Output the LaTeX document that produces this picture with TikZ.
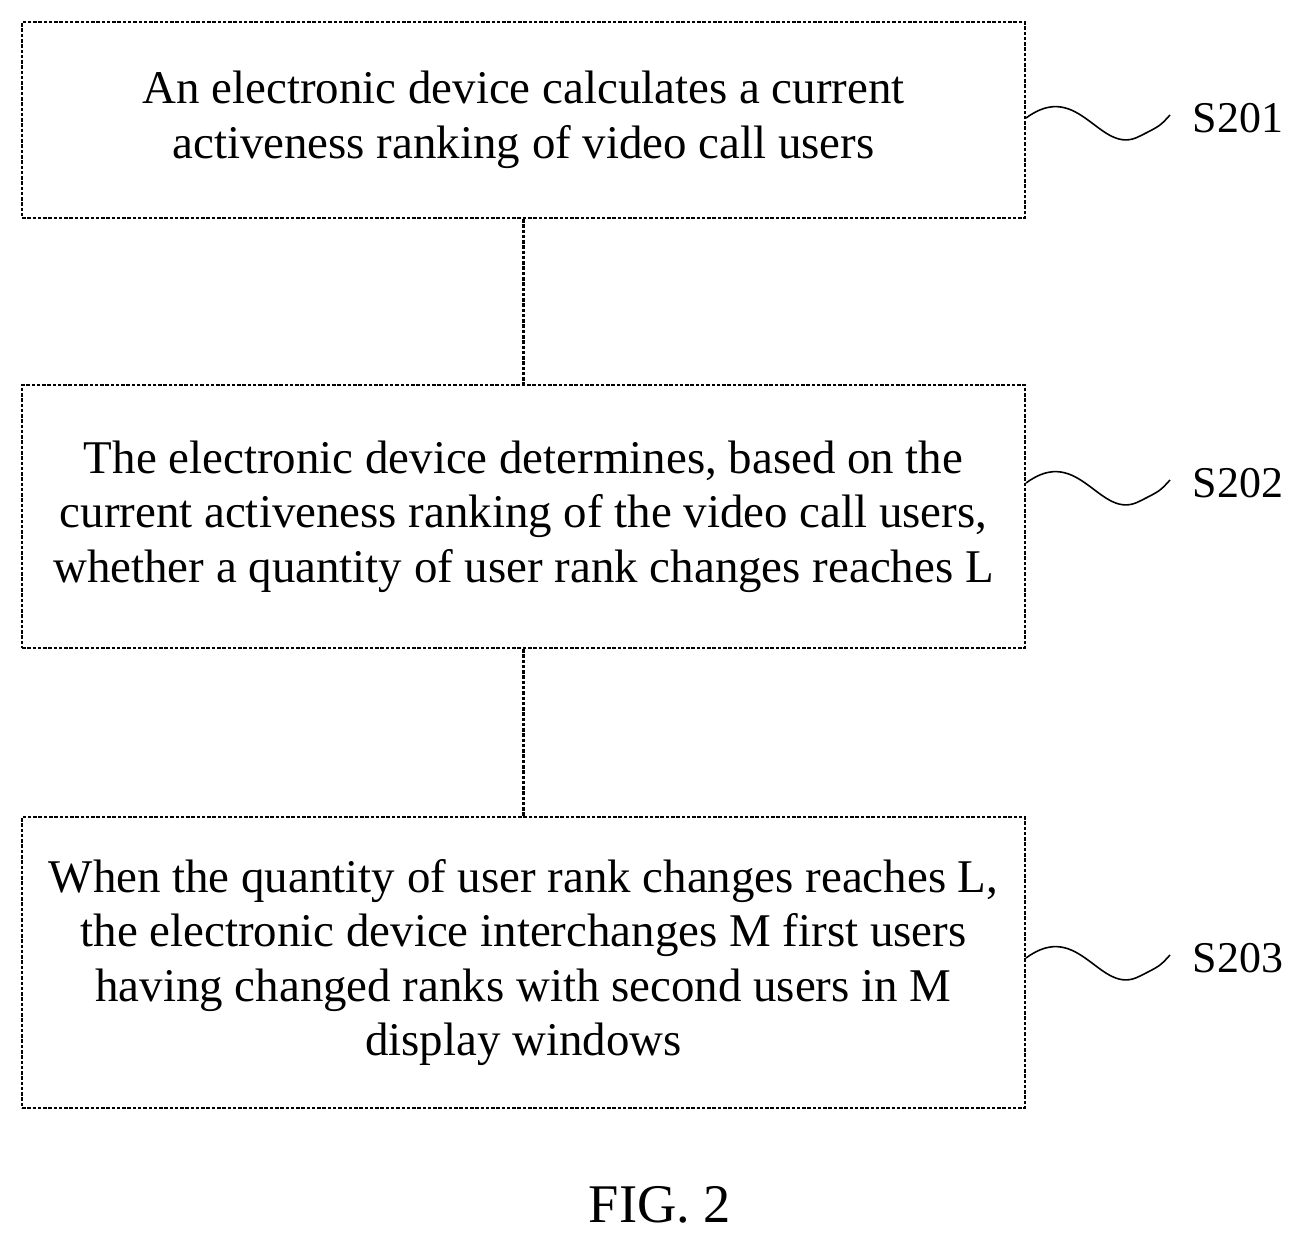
\documentclass[tikz,border=0pt]{standalone}
\usepackage{fontspec}
\setmainfont{Liberation Serif}
\usetikzlibrary{positioning}
\begin{document}
\begin{tikzpicture}
      [ x=0.02cm, y=-0.02cm,
        stepbox/.style={draw, dash pattern=on 2pt off 1pt, line width=1.2pt,
          minimum width=1003*0.02cm, align=center, inner sep=0pt,
          font=\fontsize{26.7}{31}\selectfont},
        tag/.style={font=\fontsize{25}{28}\selectfont},
        squiggle/.style={line width=0.9pt}
      ]
      \useasboundingbox (0,0) rectangle (1306,1245);
      \node[stepbox, minimum height=196*0.02cm] (s201) at (523.5,120)
        {An electronic device calculates a current\\activeness ranking of video call users};
      \node[stepbox, minimum height=263*0.02cm] (s202) at (523.5,516.5)
        {The electronic device determines, based on the\\current activeness ranking of the video call users,\\whether a quantity of user rank changes reaches L};
      \node[stepbox, minimum height=291*0.02cm] (s203) at (523.5,962.5)
        {When the quantity of user rank changes reaches L,\\the electronic device interchanges M first users\\having changed ranks with second users in M\\display windows};
      \node[tag] (t201) at (1238,118) {S201};
      \node[tag] (t202) at (1238,483) {S202};
      \node[tag] (t203) at (1238,958) {S203};
      \node[font=\fontsize{31}{34}\selectfont] (fig) at (660,1205) {FIG. 2};

      \draw[line width=1.2pt, dash pattern=on 2pt off 1pt] (s201) -- (s202);
      \draw[line width=1.2pt, dash pattern=on 2pt off 1pt] (s202) -- (s203);

      % squiggles to step tags
      \foreach \n/\y in {s201/118, s202/483, s203/958}
        \draw[squiggle] (\n.east |- 0,\y) .. controls (1080,\y-40) and (1100,\y+40) .. (1140,\y+18)
          .. controls (1160,\y+8) .. (1170,\y-3);
\end{tikzpicture}
\end{document}
